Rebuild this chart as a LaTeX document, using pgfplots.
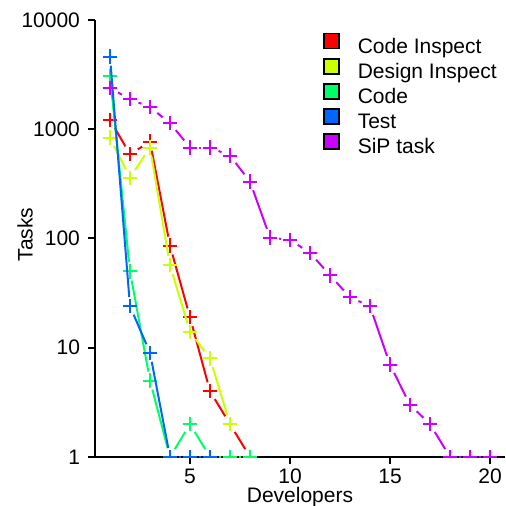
\documentclass[border=0pt]{standalone}
\usepackage{fontspec}
\setmainfont{Liberation Sans}
\usepackage{pgfplots}
\usepackage{pgfplotstable}
\pgfplotsset{compat=1.18}
\usetikzlibrary{decorations.pathreplacing}

\definecolor{cInsp}{HTML}{FF0000}
\definecolor{dInsp}{HTML}{CCFF00}
\definecolor{cCode}{HTML}{00FF66}
\definecolor{cTest}{HTML}{0066FF}
\definecolor{cSiP}{HTML}{CC00FF}

\pgfplotstableread{
x y
1 1220
2 590
3 770
4 86
5 19
6 4
7 2
8 1
}\tabCodeInsp
\pgfplotstableread{
x y
1 840
2 360
3 680
4 57
5 14
6 8
7 2
}\tabDesignInsp
\pgfplotstableread{
x y
1 3090
2 50
3 5
4 1
5 2
6 1
7 1
8 1
}\tabCode
\pgfplotstableread{
x y
1 4630
2 24
3 9
4 1
5 1
6 1
}\tabTest
\pgfplotstableread{
x y
1 2380
2 1890
3 1590
4 1140
5 680
6 680
7 574
8 332
9 102
10 97
11 74
12 46
13 29
14 24
15 7
16 3
17 2
18 1
19 1
20 1
}\tabSiP

% connecting line, broken off short of every point (like type "b")
\tikzset{
  gapline/.style={
    decorate,
    decoration={show path construction,
      moveto code={},
      lineto code={\draw[#1, line width=1pt, shorten <=4.6pt, shorten >=4.6pt]
        (\tikzinputsegmentfirst) -- (\tikzinputsegmentlast);}}
  },
}
\newcommand\gaplines[2]{%
  \addplot[forget plot, mark=none, gapline=#2] table {#1};
}
\pgfplotsset{
  series/.style={
    only marks,
    mark=+, mark size=3.6pt,
    mark options={draw=#1, line width=1pt, solid},
    legend image code/.code={
      \path[draw=black, fill=#1, line width=0.9pt] (0pt,-0.2pt) rectangle (7.5pt,7.3pt);
    },
  },
}

\begin{document}
\begin{tikzpicture}
\begin{axis}[
  scale only axis,
  width=205pt, height=218.5pt,
  ymode=log,
  xmin=0.25, xmax=20.75,
  ymin=1, ymax=10000,
  axis x line*=bottom, axis y line*=left,
  axis line style={line width=1pt, black},
  tick style={line width=1pt, black},
  tick align=outside,
  major tick length=3.5pt,
  xtick={5,10,15,20},
  ytick={1,10,100,1000,10000},
  yticklabels={1,10,100,1000,10000},
  yminorticks=false,
  /pgf/number format/assume math mode=true,
  font=\fontsize{10.5pt}{12pt}\selectfont,
  x tick label style={yshift=1pt},
  y tick label style={xshift=-0.5pt},
  xlabel={Developers},
  ylabel={Tasks},
  every axis x label/.style={at={(axis description cs:0.5,0)}, anchor=center, yshift=-20.2pt},
  every axis y label/.style={at={(axis description cs:0,0.5)}, anchor=center, xshift=-35pt, yshift=2pt, rotate=90},
  clip=true,
  clip marker paths=true,
  legend cell align=left,
  legend style={
    draw=none, fill=none, inner sep=0pt, outer sep=0pt,
    anchor=north west, at={(axis description cs:0.556,0.971)},
    font=\fontsize{10.5pt}{12pt}\selectfont,
    nodes={inner sep=0pt, text height=7.6pt, text depth=2.3pt},
    row sep=-0.15pt, column sep=9pt,
  },
]
\gaplines{\tabCodeInsp}{cInsp}
\addplot[series=cInsp] table {\tabCodeInsp};
\addlegendentry{Code Inspect}
\gaplines{\tabDesignInsp}{dInsp}
\addplot[series=dInsp] table {\tabDesignInsp};
\addlegendentry{Design Inspect}
\gaplines{\tabCode}{cCode}
\addplot[series=cCode] table {\tabCode};
\addlegendentry{Code}
\gaplines{\tabTest}{cTest}
\addplot[series=cTest] table {\tabTest};
\addlegendentry{Test}
\gaplines{\tabSiP}{cSiP}
\addplot[series=cSiP] table {\tabSiP};
\addlegendentry{SiP task}
\end{axis}
\pgfresetboundingbox
\path[use as bounding box] (-47.5pt,-24.5pt) rectangle (205pt,228.5pt);
\end{tikzpicture}
\end{document}
